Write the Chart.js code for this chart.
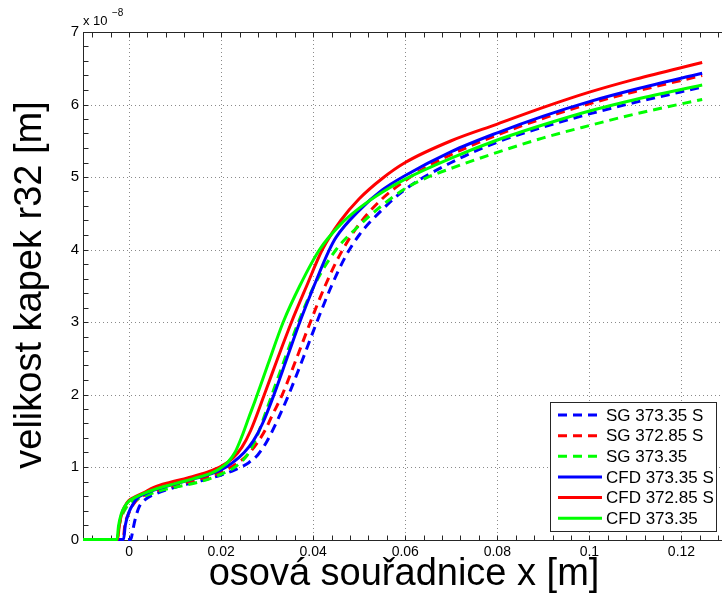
<!DOCTYPE html>
<html>
<head>
<meta charset="utf-8">
<title>velikost kapek r32</title>
<script src="https://cdn.jsdelivr.net/npm/chart.js@4.4.1/dist/chart.umd.min.js"></script>
<style>
  html, body { margin: 0; padding: 0; background: #fff; }
  #wrap { width: 722px; height: 595px; overflow: hidden; position: relative; }
  #plot { position: absolute; left: 0; top: 0; }
</style>
</head>
<body>
<div id="wrap"><canvas id="plot" width="740" height="595"></canvas></div>
<script>
// axis ticks (x in m, y in units of 1e-8 m)
const xTicks = [0, 0.02, 0.04, 0.06, 0.08, 0.1, 0.12];
const yTicks = [0, 1, 2, 3, 4, 5, 6, 7];

const seriesLabels = ['SG 373.35 S', 'SG 372.85 S', 'SG 373.35', 'CFD 373.35 S', 'CFD 372.85 S', 'CFD 373.35'];

// [x, r32 * 1e8]
const sgBlue = [[-0.01,0],[0.0004,0],[0.0008,0.12],[0.0013,0.27],[0.0022,0.45],[0.0035,0.55],[0.0054,0.62],[0.01,0.72],[0.015,0.80],[0.02,0.89],[0.023,0.96],[0.026,1.06],[0.028,1.17],[0.03,1.36],[0.0325,1.68],[0.0347,2.0],[0.0378,2.5],[0.0408,3.0],[0.044,3.5],[0.047,3.9],[0.05,4.2],[0.055,4.55],[0.06,4.83],[0.07,5.2],[0.08,5.48],[0.09,5.69],[0.1,5.87],[0.11,6.03],[0.1245,6.24]];
const sgRed = [[-0.01,0],[-0.0013,0],[-0.0009,0.2],[0,0.37],[0.001,0.49],[0.002,0.56],[0.0054,0.66],[0.01,0.75],[0.015,0.83],[0.02,0.93],[0.0235,1.05],[0.0265,1.22],[0.0295,1.5],[0.031,1.7],[0.0333,2.0],[0.0364,2.5],[0.0394,3.0],[0.0426,3.5],[0.046,3.95],[0.05,4.35],[0.055,4.70],[0.06,4.95],[0.065,5.15],[0.07,5.31],[0.08,5.58],[0.09,5.81],[0.1,6.01],[0.11,6.18],[0.1245,6.40]];
const sgGreen = [[-0.01,0],[-0.0026,0],[-0.0022,0.17],[-0.0015,0.33],[-0.0008,0.42],[0,0.49],[0.001,0.53],[0.003,0.59],[0.006,0.66],[0.01,0.72],[0.015,0.79],[0.02,0.90],[0.023,1.0],[0.0255,1.15],[0.0275,1.38],[0.0295,1.72],[0.0315,2.08],[0.034,2.52],[0.0365,2.95],[0.0402,3.5],[0.045,4.0],[0.05,4.33],[0.055,4.61],[0.06,4.84],[0.065,5.0],[0.07,5.12],[0.08,5.34],[0.09,5.54],[0.1,5.71],[0.11,5.87],[0.1245,6.07]];
const cfdBlue = [[-0.01,0],[-0.0012,0],[-0.0008,0.2],[0,0.38],[0.001,0.50],[0.0018,0.57],[0.0035,0.63],[0.0054,0.68],[0.009,0.75],[0.013,0.82],[0.017,0.89],[0.02,0.96],[0.0225,1.06],[0.025,1.2],[0.027,1.36],[0.029,1.6],[0.0315,2.0],[0.0343,2.5],[0.0371,3.0],[0.0402,3.5],[0.0434,3.98],[0.045,4.17],[0.05,4.54],[0.055,4.82],[0.06,5.02],[0.07,5.35],[0.08,5.61],[0.09,5.84],[0.1,6.04],[0.11,6.21],[0.1245,6.43]];
const cfdRed = [[-0.01,0],[-0.0025,0],[-0.0021,0.2],[-0.0015,0.37],[-0.0008,0.47],[0,0.54],[0.001,0.58],[0.003,0.64],[0.0054,0.72],[0.009,0.79],[0.0127,0.85],[0.017,0.93],[0.02,1.01],[0.0225,1.12],[0.0245,1.27],[0.0264,1.5],[0.0294,2.0],[0.0323,2.5],[0.0353,3.0],[0.0386,3.5],[0.042,4.0],[0.046,4.4],[0.05,4.70],[0.055,4.98],[0.06,5.20],[0.07,5.50],[0.08,5.73],[0.09,5.96],[0.1,6.17],[0.11,6.35],[0.1245,6.58]];
const cfdGreen = [[-0.01,0],[-0.0026,0],[-0.0023,0.18],[-0.0017,0.35],[-0.001,0.45],[0,0.53],[0.001,0.57],[0.003,0.63],[0.006,0.70],[0.01,0.77],[0.014,0.84],[0.018,0.92],[0.02,0.99],[0.0215,1.07],[0.023,1.2],[0.0245,1.42],[0.026,1.68],[0.0273,1.9],[0.0302,2.42],[0.0335,3.0],[0.0371,3.5],[0.0414,4.0],[0.046,4.35],[0.05,4.57],[0.055,4.79],[0.06,4.97],[0.07,5.26],[0.08,5.51],[0.09,5.72],[0.1,5.91],[0.11,6.07],[0.1245,6.27]];

const FONT = "'Liberation Sans', Arial, Helvetica, sans-serif";
const DASH = [9, 6];

const allSeries = [sgBlue, sgRed, sgGreen, cfdBlue, cfdRed, cfdGreen];
const colors = ['#0000ff', '#ff0000', '#00ff00', '#0000ff', '#ff0000', '#00ff00'];

const datasets = allSeries.map((pts, i) => ({
  label: seriesLabels[i],
  data: pts.map(p => ({ x: p[0], y: p[1] })),
  showLine: true,
  borderColor: colors[i],
  backgroundColor: colors[i],
  borderWidth: 3,
  borderDash: i < 3 ? DASH : [],
  pointRadius: 0,
  cubicInterpolationMode: 'monotone',
  clip: 4,
  order: allSeries.length - i   // later series on top
}));

function fmtTick(v) {
  return String(parseFloat(Number(v).toFixed(4)));
}

// matlab style box, dotted grid, inward ticks, labels and legend
const matlabAxes = {
  id: 'matlabAxes',
  beforeDatasetsDraw(chart) {
    const { ctx, chartArea: a, scales: { x, y } } = chart;
    ctx.save();
    ctx.lineWidth = 1;

    // dotted grid at major ticks
    ctx.strokeStyle = '#8a8a8a';
    ctx.setLineDash([1, 3]);
    ctx.beginPath();
    xTicks.forEach(v => {
      const p = Math.round(x.getPixelForValue(v)) + 0.5;
      ctx.moveTo(p, a.top); ctx.lineTo(p, a.bottom);
    });
    yTicks.forEach(v => {
      if (v === 0 || v === 7) return;
      const p = Math.round(y.getPixelForValue(v)) + 0.5;
      ctx.moveTo(a.left, p); ctx.lineTo(a.right, p);
    });
    ctx.stroke();
    ctx.setLineDash([]);

    // box
    ctx.strokeStyle = '#262626';
    const L = Math.round(a.left) + 0.5, R = Math.round(a.right) + 0.5;
    const T = Math.round(a.top) + 0.5, B = Math.round(a.bottom) + 0.5;
    ctx.strokeRect(L, T, R - L, B - T);

    // tick marks, major and minor, pointing inward
    const tl = 5;
    ctx.beginPath();
    for (let i = -2; i <= 32; i++) {
      const v = i * 0.004;
      if (v < x.min - 1e-9 || v > x.max + 1e-9) continue;
      const p = Math.round(x.getPixelForValue(v)) + 0.5;
      ctx.moveTo(p, B); ctx.lineTo(p, B - tl);
      ctx.moveTo(p, T); ctx.lineTo(p, T + tl);
    }
    for (let i = 0; i <= 35; i++) {
      const p = Math.round(y.getPixelForValue(i * 0.2)) + 0.5;
      ctx.moveTo(L, p); ctx.lineTo(L + tl, p);
      ctx.moveTo(R, p); ctx.lineTo(R - tl, p);
    }
    ctx.stroke();
    ctx.restore();
  },
  afterDatasetsDraw(chart) {
    const { ctx, chartArea: a } = chart;
    ctx.save();
    ctx.fillStyle = '#000';

    // exponent of the y axis
    ctx.textAlign = 'left';
    ctx.textBaseline = 'alphabetic';
    ctx.font = '13px ' + FONT;
    ctx.fillText('x 10', a.left, a.top - 7);
    ctx.font = '10px ' + FONT;
    ctx.fillText('\u22128', a.left + 29, a.top - 16);

    // axis titles
    ctx.textAlign = 'center';
    ctx.textBaseline = 'middle';
    ctx.font = '38px ' + FONT;
    ctx.fillText('osová souřadnice x [m]', 404, 575, 392);
    ctx.save();
    ctx.translate(31, 285);
    ctx.rotate(-Math.PI / 2);
    ctx.fillText('velikost kapek r32 [m]', 0, 0, 370);
    ctx.restore();

    // legend
    const bx = 550.5, by = 402.5, bw = 166, bh = 129;
    ctx.fillStyle = '#fff';
    ctx.fillRect(bx, by, bw, bh);
    ctx.strokeStyle = '#262626';
    ctx.lineWidth = 1;
    ctx.strokeRect(bx, by, bw, bh);
    ctx.font = '17px ' + FONT;
    ctx.textAlign = 'left';
    ctx.textBaseline = 'middle';
    chart.data.datasets.forEach((ds, i) => {
      const yy = 415 + i * 20.65;
      ctx.strokeStyle = ds.borderColor;
      ctx.lineWidth = 3;
      ctx.setLineDash(ds.borderDash);
      ctx.beginPath();
      ctx.moveTo(558, yy); ctx.lineTo(602, yy);
      ctx.stroke();
      ctx.setLineDash([]);
      ctx.fillStyle = '#000';
      ctx.fillText(ds.label, 606, yy + 1);
    });
    ctx.restore();
  }
};

new Chart(document.getElementById('plot'), {
  type: 'scatter',
  data: { datasets },
  plugins: [matlabAxes],
  options: {
    responsive: false,
    animation: false,
    devicePixelRatio: 1,
    events: [],
    layout: { padding: { left: 0, right: 12.5, top: 32, bottom: 0 } },
    plugins: { legend: { display: false }, tooltip: { enabled: false } },
    scales: {
      x: {
        type: 'linear',
        min: -0.01,
        max: 0.13,
        grid: { display: false, drawTicks: false },
        border: { display: false },
        afterBuildTicks: s => { s.ticks = xTicks.map(v => ({ value: v })); },
        afterFit: s => { s.height = 55.5; },
        ticks: {
          padding: 4,
          color: '#000',
          autoSkip: false,
          maxRotation: 0,
          font: { size: 14, family: FONT },
          callback: v => fmtTick(v)
        }
      },
      y: {
        type: 'linear',
        min: 0,
        max: 7,
        grid: { display: false, drawTicks: false },
        border: { display: false },
        afterBuildTicks: s => { s.ticks = yTicks.map(v => ({ value: v })); },
        afterFit: s => { s.width = 83; },
        ticks: {
          padding: 4,
          color: '#000',
          font: { size: 15, family: FONT },
          callback: v => fmtTick(v)
        }
      }
    }
  }
});
</script>
</body>
</html>
